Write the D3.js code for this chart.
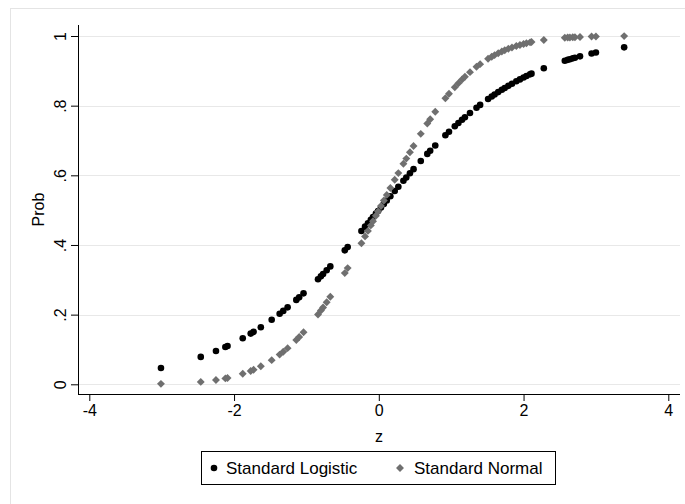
<!DOCTYPE html>
<html><head><meta charset="utf-8">
<script src="https://cdn.jsdelivr.net/npm/d3@7"></script>
<style>body{margin:0;background:#fff;} svg{display:block;font-family:"Liberation Sans",Arial,Helvetica,sans-serif;}</style>
</head><body><svg id="c" width="685" height="504"></svg>
<script>
const zValues = [-3.01,-2.46,-2.25,-2.12,-2.09,-1.88,-1.77,-1.73,-1.63,-1.48,-1.37,-1.32,-1.26,-1.14,-1.10,-1.04,-0.84,-0.80,-0.77,-0.72,-0.67,-0.47,-0.43,-0.24,-0.19,-0.15,-0.11,-0.08,-0.04,-0.01,0.03,0.07,0.11,0.16,0.22,0.27,0.34,0.38,0.43,0.48,0.58,0.67,0.71,0.78,0.92,0.97,1.05,1.10,1.15,1.19,1.26,1.35,1.40,1.51,1.56,1.60,1.65,1.70,1.74,1.79,1.84,1.90,1.95,2.00,2.04,2.09,2.11,2.28,2.57,2.61,2.64,2.68,2.71,2.78,2.94,3.00,3.39];
const logisticProb = [0.0470,0.0787,0.0954,0.1072,0.1101,0.1324,0.1455,0.1506,0.1638,0.1854,0.2026,0.2108,0.2210,0.2423,0.2497,0.2611,0.3015,0.3100,0.3165,0.3274,0.3385,0.3846,0.3941,0.4403,0.4526,0.4626,0.4725,0.4800,0.4900,0.4975,0.5075,0.5175,0.5275,0.5399,0.5548,0.5671,0.5842,0.5939,0.6059,0.6177,0.6411,0.6615,0.6704,0.6857,0.7150,0.7251,0.7408,0.7503,0.7595,0.7667,0.7790,0.7941,0.8022,0.8191,0.8264,0.8320,0.8389,0.8455,0.8507,0.8569,0.8630,0.8699,0.8754,0.8808,0.8850,0.8899,0.8919,0.9072,0.9289,0.9315,0.9334,0.9358,0.9376,0.9416,0.9498,0.9526,0.9674];
const normalProb = [0.0013,0.0069,0.0122,0.0170,0.0183,0.0301,0.0384,0.0418,0.0516,0.0694,0.0853,0.0934,0.1038,0.1271,0.1357,0.1492,0.2005,0.2119,0.2206,0.2358,0.2514,0.3192,0.3336,0.4052,0.4247,0.4404,0.4562,0.4681,0.4840,0.4960,0.5120,0.5279,0.5438,0.5636,0.5871,0.6064,0.6331,0.6480,0.6664,0.6844,0.7190,0.7486,0.7611,0.7823,0.8212,0.8340,0.8531,0.8643,0.8749,0.8830,0.8962,0.9115,0.9192,0.9345,0.9406,0.9452,0.9505,0.9554,0.9591,0.9633,0.9671,0.9713,0.9744,0.9772,0.9793,0.9817,0.9826,0.9887,0.9949,0.9955,0.9959,0.9963,0.9966,0.9973,0.9984,0.9987,0.9997];
const xTicks = [-4,-2,0,2,4];
const xTickLabels = ["-4","-2","0","2","4"];
const yTicks = [0,0.2,0.4,0.6,0.8,1];
const yTickLabels = ["0",".2",".4",".6",".8","1"];
const seriesNames = ["Standard Logistic","Standard Normal"];
const xTitle = "z", yTitle = "Prob";

const svg = d3.select("#c");
const P = {left:78, right:680, top:25, bottom:394};
const x = d3.scaleLinear().domain([-4,4]).range([89.3,668.3]);
const y = d3.scaleLinear().domain([0,1]).range([384.3,36]);
const black = "#000", gray = "#6f6f6f";

// outer graph region border
svg.append("rect").attr("x",10.5).attr("y",8.5).attr("width",720).attr("height",540)
  .attr("fill","none").attr("stroke","#e4e4e4").attr("stroke-width",1);

// gridlines
svg.append("g").selectAll("line").data(yTicks).join("line")
  .attr("x1",P.left).attr("x2",P.right)
  .attr("y1",d=>Math.round(y(d))+0.5).attr("y2",d=>Math.round(y(d))+0.5)
  .attr("stroke","#e8e8e8").attr("stroke-width",1.2);

// axes
const xAxis = svg.append("g").attr("transform",`translate(0,${P.bottom})`)
  .call(d3.axisBottom(x).tickValues(xTicks).tickFormat((d,i)=>xTickLabels[i]).tickSize(7).tickSizeOuter(0));
xAxis.select(".domain").remove();
xAxis.selectAll("text").attr("font-size",16).attr("dy","0.71em").attr("y",11).attr("fill","#000");
xAxis.selectAll("line").attr("stroke","#000");

const yAxis = svg.append("g").attr("transform",`translate(${P.left},0)`)
  .call(d3.axisLeft(y).tickValues(yTicks).tickFormat((d,i)=>yTickLabels[i]).tickSize(7).tickSizeOuter(0));
yAxis.select(".domain").remove();
yAxis.selectAll("text").attr("font-size",16).attr("x",0).attr("y",-12).attr("dy",0)
  .attr("transform","rotate(-90)").attr("text-anchor","middle").attr("fill","#000");
yAxis.selectAll("line").attr("stroke","#000");

svg.append("line").attr("x1",P.left).attr("x2",P.right).attr("y1",P.bottom+0.5).attr("y2",P.bottom+0.5).attr("stroke","#000");
svg.append("line").attr("x1",P.left+0.5).attr("x2",P.left+0.5).attr("y1",P.top).attr("y2",P.bottom+1).attr("stroke","#000");

// titles
svg.append("text").attr("x",(P.left+P.right)/2).attr("y",442).attr("text-anchor","middle")
  .attr("font-size",16).text(xTitle);
svg.append("text").attr("transform",`translate(44,${(P.top+P.bottom)/2}) rotate(-90)`)
  .attr("text-anchor","middle").attr("font-size",16).text(yTitle);

// points
const sym = d3.symbol().type(d3.symbolDiamond2).size(40);
svg.append("g").selectAll("circle").data(zValues).join("circle")
  .attr("cx",(d)=>x(d)).attr("cy",(d,i)=>y(logisticProb[i])).attr("r",3.3).attr("fill",black);
svg.append("g").selectAll("path").data(zValues).join("path")
  .attr("d",sym).attr("transform",(d,i)=>`translate(${x(d)},${y(normalProb[i])})`).attr("fill",gray);

// legend
const lg = svg.append("g");
lg.append("rect").attr("x",201.5).attr("y",451.5).attr("width",354).attr("height",33)
  .attr("fill","#fff").attr("stroke","#000");
lg.append("circle").attr("cx",214).attr("cy",468).attr("r",3.3).attr("fill",black);
lg.append("text").attr("x",226).attr("y",474).attr("font-size",17).text(seriesNames[0]);
lg.append("path").attr("d",sym).attr("transform","translate(400,468)").attr("fill",gray);
lg.append("text").attr("x",414).attr("y",474).attr("font-size",17).text(seriesNames[1]);
</script></body></html>
